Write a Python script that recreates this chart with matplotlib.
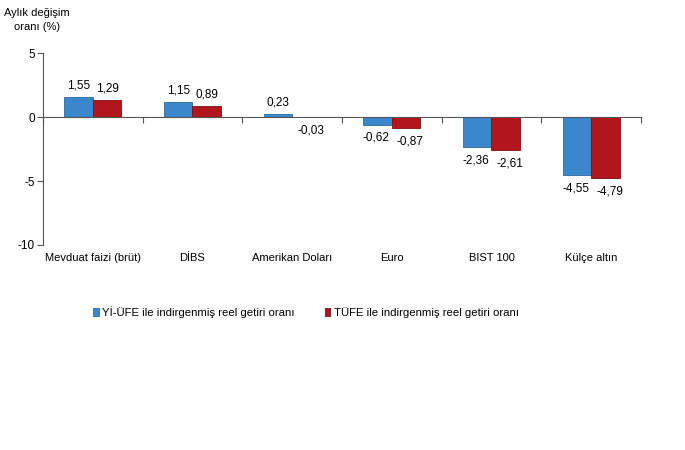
import matplotlib
matplotlib.use("Agg")
import matplotlib.pyplot as plt
import numpy as np

categories = ["Mevduat faizi (brüt)", "DİBS", "Amerikan Doları", "Euro", "BIST 100", "Külçe altın"]
yiufe = [1.55, 1.15, 0.23, -0.62, -2.36, -4.55]
tufe = [1.29, 0.89, -0.03, -0.87, -2.61, -4.79]
series_names = ["Yİ-ÜFE ile indirgenmiş reel getiri oranı", "TÜFE ile indirgenmiş reel getiri oranı"]

plt.rcParams['font.family'] = ['Liberation Sans', 'DejaVu Sans']

blue = '#3a87cb'
red = '#b3151c'

fig = plt.figure(figsize=(6.85, 4.5), dpi=100)
ax = fig.add_axes([43 / 685, 1 - 245 / 450, 598 / 685, 192 / 450])

x = np.arange(len(categories))
w = 0.285
b1 = ax.bar(x - w / 2, yiufe, w, color=blue, edgecolor='#2b6aa3', linewidth=0.6, label=series_names[0])
b2 = ax.bar(x + w / 2, tufe, w, color=red, edgecolor='#7d0e12', linewidth=0.6, label=series_names[1])

def fmt(v):
    return f"{v:.2f}".replace('.', ',')

# red series labels sit a bit to the right, as in the original
for bars, vals, dx in ((b1, yiufe, -1), (b2, tufe, 3)):
    for r, v in zip(bars, vals):
        cx = r.get_x() + r.get_width() / 2
        if v >= 0:
            ax.annotate(fmt(v), (cx, v), xytext=(0, 4), textcoords='offset points',
                        ha='center', va='bottom', fontsize=8.5)
        else:
            ax.annotate(fmt(v), (cx, v), xytext=(dx, -5), textcoords='offset points',
                        ha='center', va='top', fontsize=8.5)

ax.set_xlim(-0.5, len(categories) - 0.5)
ax.set_ylim(-10, 5)
ax.set_yticks([5, 0, -5, -10])
ax.set_yticklabels(['5', '0', '-5', '-10'], fontsize=8.5)

ax.spines['top'].set_visible(False)
ax.spines['right'].set_visible(False)
ax.spines['bottom'].set_position(('data', 0))
ax.spines['left'].set_color('#555555')
ax.spines['bottom'].set_color('#555555')
ax.tick_params(axis='y', direction='out', length=4, color='#555555', pad=2)

ax.set_xticks(np.arange(len(categories) + 1) - 0.5)
ax.set_xticklabels([])
ax.tick_params(axis='x', direction='out', length=4, color='#555555')

for i, c in enumerate(categories):
    ax.annotate(c, (i, -10), xytext=(0, -6), textcoords='offset points',
                ha='center', va='top', fontsize=8)

fig.text(37 / 685, 1 - 20 / 450, "Aylık değişim\noranı (%)", ha='center', va='center',
         fontsize=8, linespacing=1.4)

fig.legend(handles=[b1, b2], labels=series_names, loc='center', bbox_to_anchor=(306 / 685, 1 - 312 / 450),
           ncol=2, frameon=False, fontsize=8.2, handlelength=0.5, handleheight=0.7,
           handletextpad=0.3, columnspacing=2.6)

fig.savefig('out.png', dpi=100)
